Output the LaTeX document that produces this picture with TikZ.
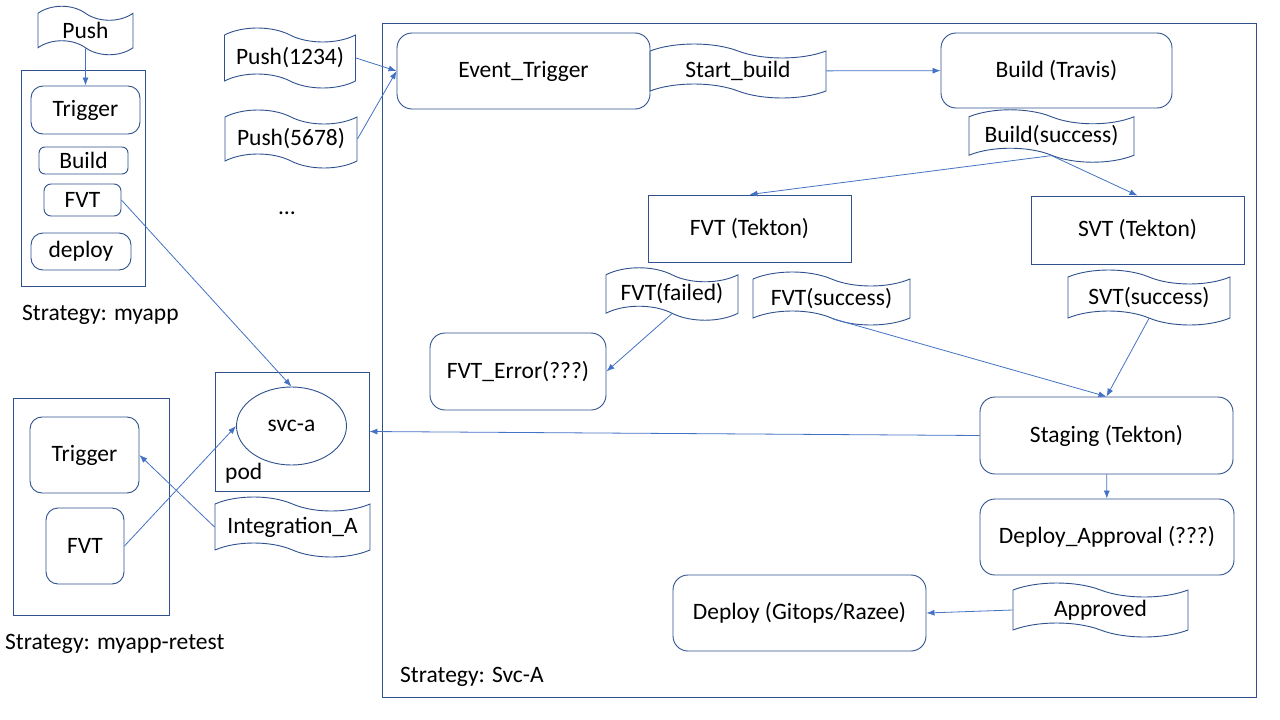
\documentclass[tikz,border=0pt]{standalone}
\usepackage{fontspec}
\setmainfont{Carlito}
\usetikzlibrary{arrows.meta,shapes.symbols,shapes.geometric}
\definecolor{boxc}{HTML}{2F528F}
\definecolor{arrc}{HTML}{4472C4}
\newcommand{\lbl}{\fontsize{23.5}{28}\selectfont}

\begin{document}
\begin{tikzpicture}[
  x=1pt, y=-1pt,
  >={Latex[length=8pt,width=6pt]},
  font=\lbl,
  rbox/.style={draw=boxc, line width=0.9pt, rounded corners=12pt, align=center, inner sep=2pt},
  sbox/.style={draw=boxc, line width=0.9pt, align=center, inner sep=2pt},
  sig/.style={tape, draw=boxc, line width=0.9pt, tape bend top=out and in, tape bend bottom=out and in, tape bend height=14pt, inner sep=2pt},
  frame/.style={draw=boxc, line width=0.9pt, inner sep=0pt},
  note/.style={anchor=west, inner sep=0pt},
  flow/.style={->, draw=arrc, line width=0.8pt},
]
  \useasboundingbox[fill=white] (0,0) rectangle (1280,720);

  % strategy containers
  \node[frame, minimum width=124pt, minimum height=216pt] (myapp)  at (83,178) {};
  \node[frame, minimum width=156pt, minimum height=217pt] (retest) at (91,506.5) {};
  \node[frame, minimum width=154pt, minimum height=119pt] (pod)    at (292,431.5) {};
  \node[frame, minimum width=874pt, minimum height=674pt] (svca)   at (819,360) {};

  % Strategy: myapp
  \node[sig, minimum width=95pt, minimum height=35pt] (push) at (85.5,30.5) {Push};
  \node[rbox, minimum width=109pt, minimum height=48pt] (trigA) at (85.5,110) {Trigger};
  \node[rbox, rounded corners=6pt, minimum width=89pt, minimum height=27pt] (buildA) at (83.5,160.5) {Build};
  \node[rbox, rounded corners=7pt, minimum width=77pt, minimum height=32pt] (fvtA) at (82.5,200) {FVT};
  \node[rbox, minimum width=100pt, minimum height=37pt] (deployA) at (81,251.5) {deploy};
  \node[note] (lmyapp) at (22,315) {Strategy: myapp};

  % incoming events
  \node[sig, minimum width=131pt, minimum height=60pt] (push1) at (290,58) {Push(1234)};
  \node[sig, minimum width=132pt, minimum height=58pt] (push2) at (291,139) {Push(5678)};
  \node (dots) at (287,213) {…};

  % Strategy: Svc-A
  \node[rbox, rounded corners=15pt, minimum width=253pt, minimum height=76pt] (evt) at (523.5,71) {Event\_Trigger};
  \node[sig, minimum width=176pt, minimum height=54pt] (start) at (738,71) {Start\_build};
  \node[rbox, rounded corners=15pt, minimum width=231pt, minimum height=75pt] (travis) at (1056.5,70.5) {Build (Travis)};
  \node[sig, minimum width=165pt, minimum height=48pt] (bsucc) at (1051.5,136) {Build(success)};
  \node[sbox, minimum width=203pt, minimum height=67pt] (fvtT) at (749.5,228.5) {FVT (Tekton)};
  \node[sbox, minimum width=213pt, minimum height=68pt] (svtT) at (1137.5,230) {SVT (Tekton)};
  \node[sig, minimum width=132pt, minimum height=48pt] (ffail) at (672,294) {FVT(failed)};
  \node[sig, minimum width=157pt, minimum height=53pt] (fsucc) at (831.5,298.5) {FVT(success)};
  \node[sig, minimum width=162pt, minimum height=55pt] (ssucc) at (1149,297.5) {SVT(success)};
  \node[rbox, rounded corners=15pt, minimum width=176pt, minimum height=77pt] (ferr) at (518,371.5) {FVT\_Error(???)};
  \node[rbox, rounded corners=15pt, minimum width=253pt, minimum height=77pt] (stag) at (1106.5,435.5) {Staging (Tekton)};
  \node[rbox, rounded corners=15pt, minimum width=254pt, minimum height=76pt] (appr) at (1107,537) {Deploy\_Approval (???)};
  \node[sig, minimum width=175pt, minimum height=54pt] (approved) at (1100.5,610) {Approved};
  \node[rbox, rounded corners=15pt, minimum width=253pt, minimum height=76pt] (deploy) at (799.5,613) {Deploy (Gitops/Razee)};
  \node[note] (lsvca) at (400,677) {Strategy: Svc-A};

  % pod and retest
  \node[ellipse, draw=boxc, line width=0.9pt, minimum width=110pt, minimum height=78pt, inner sep=0pt] (svc) at (291.5,426) {svc-a};
  \node[note] (lpod) at (225,473) {pod};
  \node[sig, minimum width=155pt, minimum height=60pt] (integ) at (292.5,527) {Integration\_A};
  \node[rbox, minimum width=109pt, minimum height=76pt] (trigB) at (84.5,455) {Trigger};
  \node[rbox, minimum width=78pt, minimum height=76pt] (fvtB) at (85,546) {FVT};
  \node[note] (lretest) at (5,644) {Strategy: myapp-retest};

  % connectors
  \draw[flow] (push) -- (trigA);
  \draw[flow] (push1.east) -- (evt.west);
  \draw[flow] (push2.east) -- (evt.west);
  \draw[flow] (start) -- (travis);
  \draw[flow] (bsucc.south) -- (fvtT.north);
  \draw[flow] (bsucc.south) -- (svtT.north);
  \draw[flow] (ffail.south) -- (ferr.east);
  \draw[flow] (fsucc.south) -- (stag.north);
  \draw[flow] (ssucc.south) -- (stag.north);
  \draw[flow] (stag.west) -- (pod.east);
  \draw[flow] (stag) -- (appr);
  \draw[flow] (approved.west) -- (deploy.east);
  \draw[flow] (fvtA.east) -- (svc.north);
  \draw[flow] (fvtB.east) -- (svc.west);
  \draw[flow] (integ.west) -- (trigB.east);
\end{tikzpicture}
\end{document}
